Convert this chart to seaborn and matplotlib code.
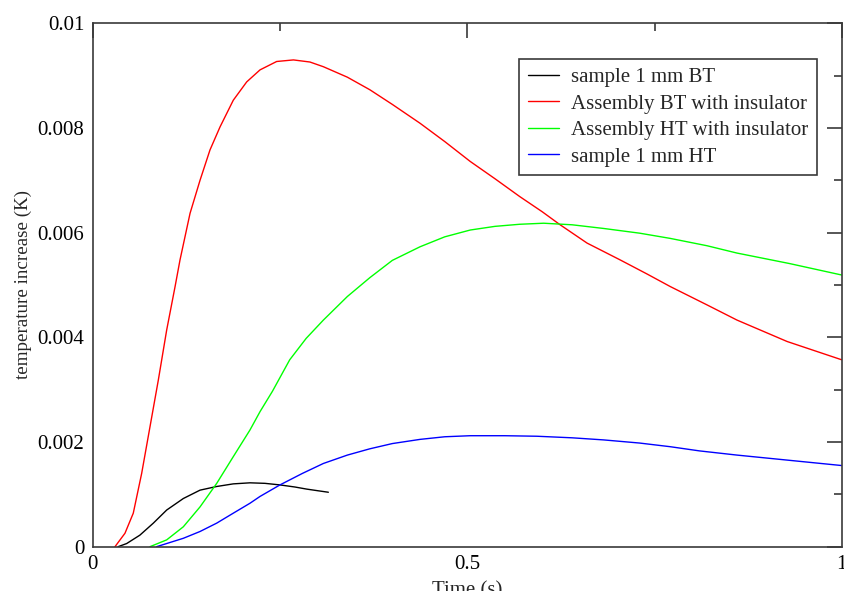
import matplotlib
matplotlib.use("Agg")
import matplotlib.pyplot as plt
from matplotlib.ticker import MultipleLocator
from matplotlib.lines import Line2D
import seaborn as sns
import pandas as pd

# ---- data ----
t_black = [0.034, 0.0454, 0.063, 0.081, 0.0988, 0.121, 0.1433, 0.1656, 0.1877,
           0.21, 0.23, 0.25, 0.27, 0.2857, 0.3, 0.3146]
v_black = [0.0, 0.00006, 0.00022, 0.00045, 0.0007, 0.00092, 0.00108, 0.00115, 0.0012,
           0.00122, 0.00121, 0.00118, 0.00114, 0.0011, 0.00107, 0.00104]

t_red = [0.0298, 0.0431, 0.0542, 0.0654, 0.0765, 0.0876, 0.0988, 0.110, 0.1166,
         0.130, 0.1433, 0.1566, 0.170, 0.1877, 0.2056, 0.2234, 0.2456, 0.268,
         0.29, 0.308, 0.34, 0.370, 0.40, 0.437, 0.47, 0.504, 0.537, 0.570,
         0.60, 0.624, 0.66, 0.704, 0.74, 0.771, 0.82, 0.86, 0.927, 1.0]
v_red = [0.0, 0.000256, 0.00064, 0.0014, 0.00229, 0.00318, 0.00414, 0.00497, 0.00548,
         0.00637, 0.0070, 0.00758, 0.00802, 0.00853, 0.00888, 0.00911, 0.00927, 0.00930,
         0.00926, 0.00917, 0.00897, 0.00873, 0.00845, 0.00809, 0.00774, 0.00736, 0.00703, 0.00669,
         0.00640, 0.00615, 0.00580, 0.00548, 0.00521, 0.00497, 0.00462, 0.00433, 0.00392, 0.00357]

t_green = [0.0765, 0.0988, 0.121, 0.1433, 0.1656, 0.1877, 0.21, 0.2234, 0.24,
           0.263, 0.285, 0.308, 0.34, 0.370, 0.40, 0.437, 0.47, 0.504, 0.537,
           0.570, 0.602, 0.64, 0.682, 0.73, 0.771, 0.82, 0.86, 0.93, 1.0]
v_green = [0.0, 0.00013, 0.00038, 0.00076, 0.00121, 0.00172, 0.00223, 0.00258, 0.00297,
           0.00357, 0.00398, 0.00433, 0.00478, 0.00514, 0.00547, 0.00573, 0.00592, 0.00605, 0.00612,
           0.00616, 0.00618, 0.00615, 0.00608, 0.00599, 0.00589, 0.00575, 0.00561, 0.00541, 0.00519]

t_blue = [0.0854, 0.121, 0.1433, 0.1656, 0.1877, 0.21, 0.2234, 0.25, 0.28,
          0.308, 0.34, 0.370, 0.40, 0.437, 0.47, 0.504, 0.55, 0.593, 0.64,
          0.682, 0.73, 0.771, 0.81, 0.86, 0.93, 1.0]
v_blue = [0.0, 0.00016, 0.00029, 0.00045, 0.00064, 0.00083, 0.00096, 0.00118, 0.00140,
          0.00159, 0.00175, 0.00187, 0.00197, 0.00205, 0.00210, 0.00212, 0.00212, 0.00211, 0.00208,
          0.00204, 0.00198, 0.00191, 0.00183, 0.00175, 0.00165, 0.00155]

labels = ["sample 1 mm BT", "Assembly BT with insulator",
          "Assembly HT with insulator", "sample 1 mm HT"]
colors = ["#000000", "#ff0000", "#00ff00", "#0000ff"]

x_ticks = [0, 0.5, 1]
x_ticklabels = ["0", "0.5", "1"]
y_ticks = [0, 0.002, 0.004, 0.006, 0.008, 0.01]
y_ticklabels = ["0", "0.002", "0.004", "0.006", "0.008", "0.01"]

frames = []
for lab, t, v in zip(labels, [t_black, t_red, t_green, t_blue],
                     [v_black, v_red, v_green, v_blue]):
    frames.append(pd.DataFrame({"t": t, "v": v, "series": lab}))
df = pd.concat(frames, ignore_index=True)

sns.set_style("white")
plt.rcParams["font.family"] = ["Liberation Serif", "DejaVu Serif"]

fig = plt.figure(figsize=(8.44, 5.91), dpi=100)
ax = fig.add_axes([0.1098, 0.075, 0.8876, 0.8856])

sns.lineplot(data=df, x="t", y="v", hue="series", hue_order=labels,
             palette=dict(zip(labels, colors)), sort=False, estimator=None,
             linewidth=1.0, ax=ax, legend=False)

ax.set_xlim(0, 1)
ax.set_ylim(0, 0.01)
ax.set_xticks(x_ticks)
ax.set_xticklabels(x_ticklabels, fontsize=15)
ax.set_yticks(y_ticks)
ax.set_yticklabels(y_ticklabels, fontsize=15)
ax.xaxis.set_minor_locator(MultipleLocator(0.25))
ax.yaxis.set_minor_locator(MultipleLocator(0.001))

for s in ax.spines.values():
    s.set_color("#3a3a3a")
    s.set_linewidth(1.2)
ax.tick_params(which="both", direction="in", top=True, right=True,
               color="#3a3a3a", width=1.2, labelcolor="black")
ax.tick_params(which="major", length=11)
ax.tick_params(axis="x", which="major", pad=6)
ax.tick_params(axis="y", which="major", pad=6)
ax.tick_params(which="minor", length=6)

ax.set_xlabel("Time (s)", fontsize=15, labelpad=5)
ax.set_ylabel("temperature increase (K)", fontsize=13.7, labelpad=4)

handles = [Line2D([], [], color=c, linewidth=1.0) for c in colors]
leg = ax.legend(handles, labels, loc="upper left", bbox_to_anchor=(0.5696, 0.931),
                borderaxespad=0, fontsize=15, frameon=True, fancybox=False,
                framealpha=1, edgecolor="#3a3a3a", handlelength=1.5,
                handletextpad=0.6, labelspacing=0.33, borderpad=0.4)
leg.get_frame().set_linewidth(1.2)

fig.savefig("out.png", dpi=100)
